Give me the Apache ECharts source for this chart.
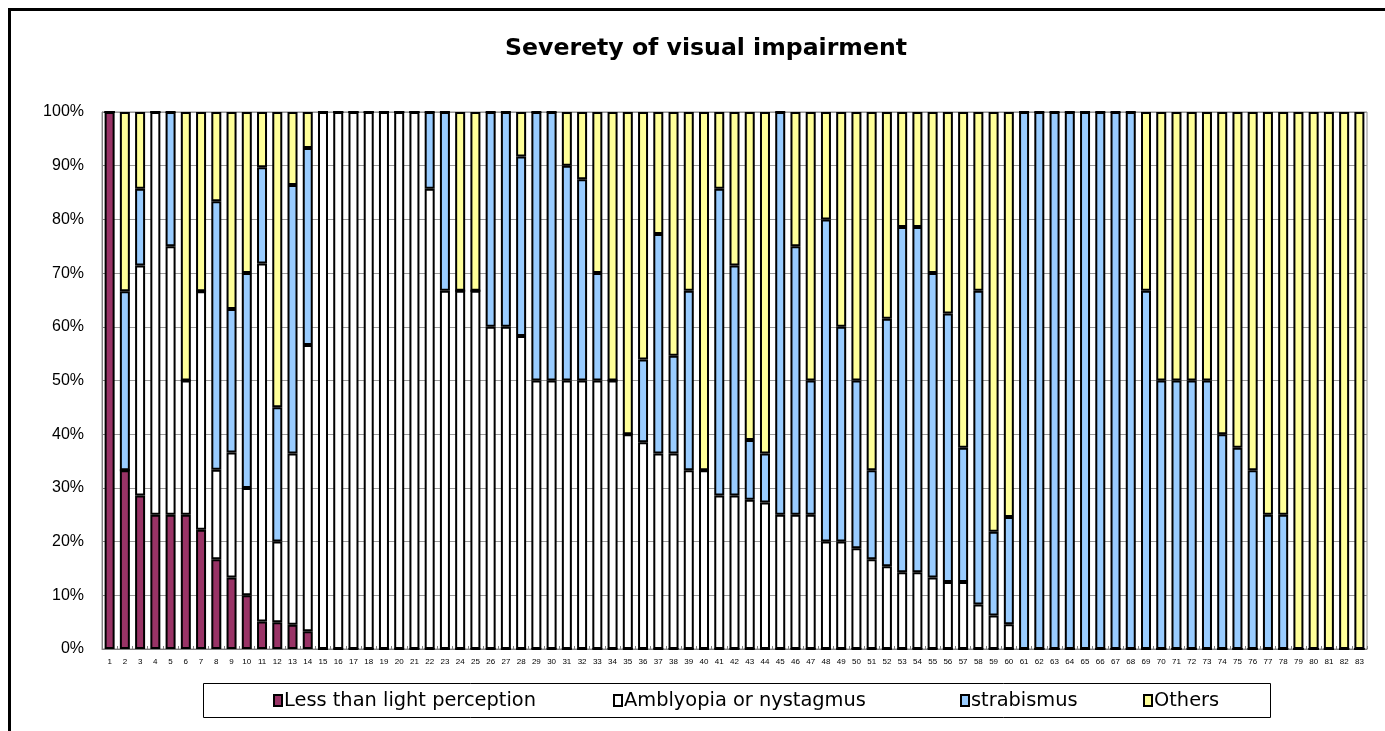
<!DOCTYPE html>
<html>
<head>
<meta charset="utf-8">
<script src="https://cdn.jsdelivr.net/npm/echarts@6/dist/echarts.min.js"></script>
<style>
html,body{margin:0;padding:0;background:#fff;}
#chart{width:1385px;height:731px;}
</style>
</head>
<body>
<div id="chart"></div>
<script>
const categories = Array.from({length: 83}, (_, i) => String(i + 1));
const seriesNames = ['Less than light perception', 'Amblyopia or nystagmus', 'strabismus', 'Others'];
const yTickLabels = ['0%','10%','20%','30%','40%','50%','60%','70%','80%','90%','100%'];

const lessThanLight = [100,33.3,28.6,25,25,25,22.2,16.7,13.3,10,5.1,5,4.5,3.3,
  0,0,0,0,0,0,0,0,0,0,0,0,0,0,0,0,0,0,0,0,0,0,0,0,0,0,0,0,0,0,0,0,0,0,0,0,
  0,0,0,0,0,0,0,0,0,0,0,0,0,0,0,0,0,0,0,0,0,0,0,0,0,0,0,0,0,0,0,0,0];

const amblyopia = [0,0,42.8,75,50,25,44.4,16.7,23.3,20,66.7,15,31.9,53.3,
  100,100,100,100,100,100,100,
  85.7,66.7,66.7,66.7,60,60,58.3,50,50,
  50,50,50,50,40,38.5,36.4,36.4,33.3,33.3,
  28.6,28.6,27.8,27.3,25,25,25,20,20,18.75,
  16.7,15.4,14.3,14.3,13.3,12.5,12.5,8.3,6.25,4.6,
  0,0,0,0,0,0,0,0,0,0,0,0,0,0,0,0,0,0,0,0,0,0,0];

const strabismus = [0,33.3,14.3,0,25,0,0,50,26.7,40,17.9,25,50,36.7,
  0,0,0,0,0,0,0,
  14.3,33.3,0,0,40,40,33.4,50,50,
  40,37.5,20,0,0,15.4,40.9,18.2,33.4,0,
  57.1,42.8,11.1,9.1,75,50,25,60,40,31.25,
  16.6,46.1,64.3,64.3,56.7,50,25,58.4,15.6,20,
  100,100,100,100,100,100,100,100,66.7,50,50,50,50,40,37.5,33.3,25,25,
  0,0,0,0,0];

const others = [0,33.4,14.3,0,0,50,33.4,16.6,36.7,30,10.3,55,13.6,6.7,
  0,0,0,0,0,0,0,
  0,0,33.3,33.3,0,0,8.3,0,0,
  10,12.5,30,50,60,46.1,22.7,45.4,33.3,66.7,
  14.3,28.6,61.1,63.6,0,25,50,20,40,50,
  66.7,38.5,21.4,21.4,30,37.5,62.5,33.3,78.15,75.4,
  0,0,0,0,0,0,0,0,33.3,50,50,50,50,60,62.5,66.7,75,75,
  100,100,100,100,100];

const colors = ['#993366', '#FFFFFF', '#99CCFF', '#FFFF99'];
const values = [lessThanLight, amblyopia, strabismus, others];

const chart = echarts.init(document.getElementById('chart'), null, {renderer: 'canvas'});

const legendLefts = [273, 613, 960, 1143];
const legends = seriesNames.map((n, i) => ({
  data: [n],
  left: legendLefts[i],
  top: 691,
  icon: 'rect',
  itemWidth: 8,
  itemHeight: 11,
  itemGap: 0,
  padding: 0,
  textStyle: {fontFamily: 'DejaVu Sans', fontSize: 19.4, color: '#000', padding: [0, 0, 0, -3]},
  selectedMode: false
}));

chart.setOption({
  animation: false,
  backgroundColor: '#fff',
  title: {
    text: 'Severety of visual impairment',
    left: 701,
    textAlign: 'center',
    top: 32,
    textStyle: {fontFamily: 'DejaVu Sans', fontWeight: 'bold', fontSize: 23.6, color: '#000'}
  },
  graphic: [
    {type: 'rect', shape: {x: 9.5, y: 9.5, width: 1500, height: 900}, style: {fill: null, stroke: '#000', lineWidth: 3}, z: 100},
    {type: 'rect', shape: {x: 203.5, y: 683.5, width: 1067, height: 34}, style: {fill: '#fff', stroke: '#000', lineWidth: 1}, z: -1}
  ],
  legend: legends,
  grid: {left: 102, right: 18, top: 112, bottom: 82, show: true, borderColor: '#8c8c8c', borderWidth: 1, containLabel: false},
  xAxis: {
    type: 'category',
    data: categories,
    axisLine: {lineStyle: {color: '#808080', width: 1}},
    axisTick: {show: true, inside: true, length: 3, lineStyle: {color: '#808080'}},
    axisLabel: {interval: 0, fontSize: 8, fontFamily: 'Liberation Sans', color: '#000', margin: 9}
  },
  yAxis: {
    type: 'value',
    min: 0, max: 100, interval: 10,
    axisLine: {show: true, lineStyle: {color: '#808080'}},
    axisTick: {show: true, inside: true, length: 4, lineStyle: {color: '#808080'}},
    splitLine: {show: true, lineStyle: {color: '#9a9a9a', width: 1}},
    axisLabel: {
      fontSize: 16, fontFamily: 'Liberation Sans', color: '#000', margin: 18,
      formatter: v => yTickLabels[Math.round(v / 10)]
    }
  },
  series: seriesNames.map((n, i) => ({
    name: n,
    type: 'bar',
    stack: 'total',
    barWidth: 10,
    data: values[i],
    itemStyle: {color: colors[i], borderColor: '#000', borderWidth: 2}
  }))
});
</script>
</body>
</html>
